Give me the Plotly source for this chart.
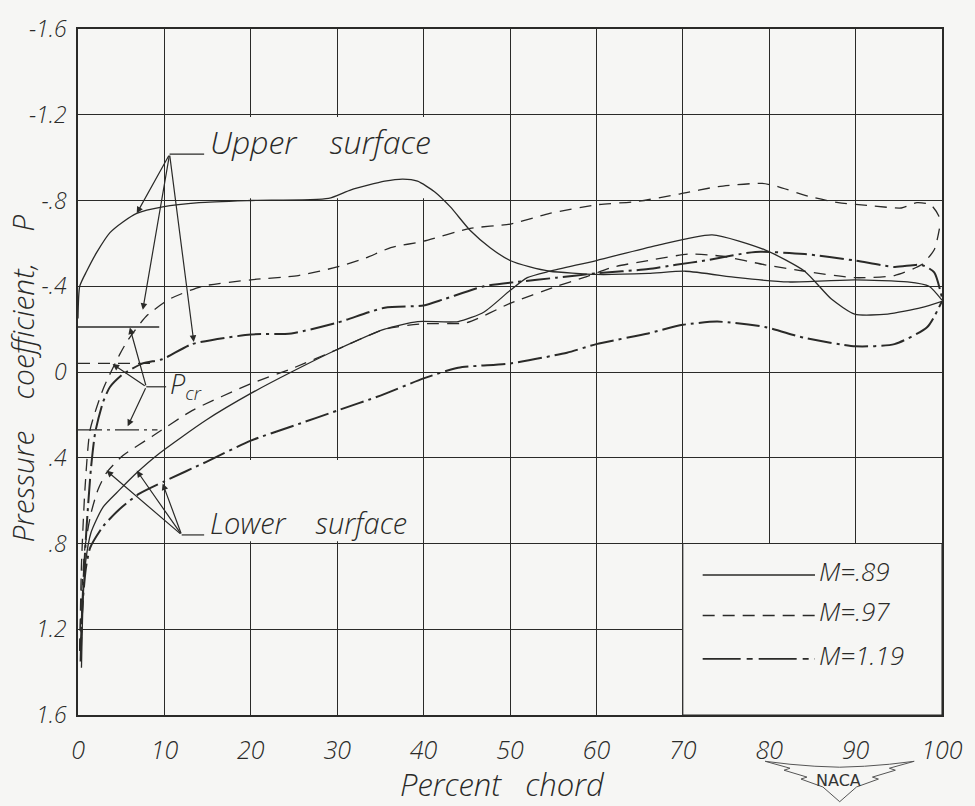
import plotly.graph_objects as go

# ---- chord stations (percent chord) and pressure coefficients ----
m89_upper_x = [0, 0.2, 1.0, 2.2, 3.7, 5.2, 6.8, 9.8, 14, 20, 29, 31.6, 35.5, 37.6,
               39.3, 41.3, 43.1, 45.4, 47.7, 50, 52.3, 54.6, 60, 66, 70.3, 76.4,
               82.2, 89.9, 96, 98.5, 100]
m89_upper_p = [-0.25, -0.40, -0.47, -0.56, -0.65, -0.70, -0.74, -0.77, -0.79, -0.80,
               -0.81, -0.85, -0.89, -0.90, -0.89, -0.84, -0.77, -0.66, -0.58, -0.52,
               -0.49, -0.47, -0.455, -0.46, -0.47, -0.44, -0.42, -0.43, -0.42, -0.40,
               -0.335]

m89_lower_x = [0.4, 0.6, 0.9, 1.5, 2.9, 4.8, 6.8, 9.4, 14.8, 20, 24.7, 30, 35.5, 39.3,
               44, 47, 50, 52, 54.6, 60, 66.9, 73.4, 79.5, 84.1, 87.2, 89.9, 93.7,
               97.6, 100]
m89_lower_p = [1.38, 1.05, 0.88, 0.75, 0.63, 0.55, 0.47, 0.38, 0.225, 0.10, 0.0,
               -0.105, -0.20, -0.235, -0.235, -0.28, -0.38, -0.44, -0.47, -0.52,
               -0.59, -0.64, -0.57, -0.47, -0.34, -0.27, -0.27, -0.30, -0.33]

m97_upper_x = [0.2, 0.4, 0.8, 1.4, 2.9, 4.8, 5.8, 7.9, 10.6, 14.4, 20, 25.5, 30, 33.2,
               36.2, 40, 45.4, 50, 54.6, 60, 64.6, 69.6, 74.1, 79.2, 81, 84.5, 88, 92,
               95.3, 97.1, 98.7, 99.6, 99.8]
m97_upper_p = [1.30, 0.90, 0.55, 0.27, 0.08, -0.08, -0.15, -0.26, -0.34, -0.40, -0.43,
               -0.45, -0.49, -0.53, -0.58, -0.61, -0.67, -0.69, -0.74, -0.78, -0.795,
               -0.83, -0.865, -0.88, -0.865, -0.82, -0.79, -0.775, -0.765, -0.79,
               -0.78, -0.73, -0.69]

m97_lower_x = [0.2, 0.4, 0.8, 1.5, 2.3, 3.3, 5.2, 8.6, 13.2, 20, 25, 30, 35.5, 40, 45,
               50, 55.4, 58.5, 62, 66, 70.7, 74.6, 79.5, 84.1, 89.9, 94.5, 97.6, 99.1,
               99.8]
m97_lower_p = [1.30, 1.05, 0.82, 0.66, 0.55, 0.47, 0.39, 0.30, 0.18, 0.055, -0.02,
               -0.105, -0.20, -0.225, -0.23, -0.32, -0.40, -0.44, -0.49, -0.52, -0.55,
               -0.54, -0.50, -0.47, -0.44, -0.45, -0.50, -0.57, -0.69]

m119_upper_x = [0.3, 0.6, 1.0, 1.5, 2.0, 2.9, 3.7, 5.2, 7.5, 9.8, 13.2, 20, 24.7, 30,
                35.5, 40, 42.4, 47, 50.8, 55.4, 60, 66, 69.2, 72.6, 78.4, 84.1, 89.9,
                94.5, 97.6, 99.1, 100]
m119_upper_p = [1.30, 1.00, 0.72, 0.45, 0.28, 0.14, 0.07, 0.01, -0.04, -0.06, -0.13,
                -0.175, -0.18, -0.23, -0.30, -0.31, -0.34, -0.40, -0.42, -0.44, -0.46,
                -0.48, -0.50, -0.52, -0.56, -0.55, -0.52, -0.49, -0.50, -0.465, -0.345]

m119_lower_x = [0.3, 0.5, 0.9, 1.4, 2.9, 4.8, 7, 10, 14.8, 20, 25, 30, 35, 40, 44, 50,
                56.6, 60, 66, 70, 74, 79.5, 84, 90, 94.5, 98.3, 100]
m119_lower_p = [1.35, 1.10, 0.92, 0.82, 0.72, 0.64, 0.57, 0.51, 0.42, 0.32, 0.25, 0.18,
                0.11, 0.03, -0.02, -0.04, -0.09, -0.13, -0.18, -0.22, -0.235, -0.21,
                -0.16, -0.12, -0.13, -0.21, -0.33]

# critical pressure coefficient for each Mach number
mach_labels = ["M=.89", "M=.97", "M=1.19"]
p_critical = [-0.21, -0.04, 0.27]

# axis ticks
x_ticks = [0, 10, 20, 30, 40, 50, 60, 70, 80, 90, 100]
x_ticktext = ["0", "10", "20", "30", "40", "50", "60", "70", "80", "90", "100"]
y_ticks = [-1.6, -1.2, -0.8, -0.4, 0, 0.4, 0.8, 1.2, 1.6]
y_ticktext = ["-1.6", "-1.2", "-.8", "-.4", "0", ".4", ".8", "1.2", "1.6"]

INK = "#2a2a28"
PAPER = "#f6f6f4"
FONT = "Open Sans"
dash_styles = ["solid", "12px,8px", "24px,5px,3px,5px"]
widths = [1.3, 1.3, 2.0]

series = [
    (m89_upper_x, m89_upper_p, m89_lower_x, m89_lower_p),
    (m97_upper_x, m97_upper_p, m97_lower_x, m97_lower_p),
    (m119_upper_x, m119_upper_p, m119_lower_x, m119_lower_p),
]

fig = go.Figure()
for i, (ux, up, lx, lp) in enumerate(series):
    for xs, ps in ((ux, up), (lx, lp)):
        fig.add_trace(go.Scatter(
            x=xs, y=ps, mode="lines",
            line=dict(color=INK, width=widths[i], dash=dash_styles[i],
                      shape="spline", smoothing=0.6),
            showlegend=False, hoverinfo="skip"))

# short critical-pressure marks near the leading edge
pcr_ends = [9.4, 8.8, 9.2]
for i, pcr in enumerate(p_critical):
    fig.add_trace(go.Scatter(
        x=[0, pcr_ends[i]], y=[pcr, pcr], mode="lines",
        line=dict(color=INK, width=1.3, dash=dash_styles[i]),
        showlegend=False, hoverinfo="skip"))

shapes = []
# clear panels behind the callout text and the key
for x0, x1, y0, y1 in ((12, 48, -1.19, -0.81), (12, 38, 0.41, 0.79)):
    shapes.append(dict(type="rect", xref="x", yref="y", x0=x0, x1=x1, y0=y0, y1=y1,
                       fillcolor=PAPER, line=dict(width=0), layer="between"))
shapes.append(dict(type="rect", xref="x", yref="y", x0=70, x1=100, y0=0.8, y1=1.6,
                   fillcolor=PAPER, line=dict(color=INK, width=1.1), layer="between"))

# leader lines for the callouts
for x0, x1, y in ((10.6, 14.6, -1.016), (12.0, 14.6, 0.76), (7.9, 10.2, 0.069)):
    shapes.append(dict(type="line", xref="x", yref="y", x0=x0, x1=x1, y0=y, y1=y,
                       line=dict(color=INK, width=1.2)))

# key samples
key_y = [0.947, 1.136, 1.338]
key_dash = ["solid", "12px,8px", "38px,6px,6px,6px"]
for i, lab in enumerate(mach_labels):
    shapes.append(dict(type="line", xref="x", yref="y", x0=72.3, x1=85.3,
                       y0=key_y[i], y1=key_y[i],
                       line=dict(color=INK, width=1.6, dash=key_dash[i])))

# NACA wing emblem below the axis (outline built from one wing, mirrored)
def px_to_paper(px, py):
    return (px - 78) / 870.0, (715 - py) / 696.0

CX = 845
half_top = [(CX, 768), (820, 767), (795, 765), (770, 762)]
half_bottom = [(770, 762), (795, 769), (789, 771), (812, 778), (806, 780),
               (828, 788), (CX, 803)]
right_top = [(2 * CX - a, b) for a, b in half_top]          # centre -> right tip
right_bottom = [(2 * CX - a, b) for a, b in half_bottom]    # right tip -> centre bottom
left_bottom = half_bottom[::-1]                              # centre bottom -> left tip
left_top = half_top[::-1]                                    # left tip -> centre
outline = right_top + right_bottom[1:] + left_bottom[1:] + left_top[1:]
pts = [px_to_paper(a, b) for a, b in outline]
path = "M " + " L ".join(f"{a:.4f},{b:.4f}" for a, b in pts) + " Z"
shapes.append(dict(type="path", xref="paper", yref="paper", path=path,
                   line=dict(color="#555", width=1), fillcolor="rgba(0,0,0,0)"))

ann = []
arrow_common = dict(showarrow=True, arrowhead=2, arrowsize=1.1, arrowwidth=1.2,
                    arrowcolor=INK, axref="x", ayref="y", xref="x", yref="y",
                    text="", standoff=0)
# "Upper surface" arrows
for tx, ty in ((6.8, -0.74), (7.5, -0.29), (13.4, -0.14)):
    ann.append(dict(x=tx, y=ty, ax=10.6, ay=-1.016, **arrow_common))
# "Lower surface" arrows
for tx, ty in ((3.3, 0.46), (6.8, 0.46), (9.8, 0.52)):
    ann.append(dict(x=tx, y=ty, ax=12.0, ay=0.76, **arrow_common))
# P_cr arrows
for tx, ty in ((6.0, -0.207), (4.0, -0.037), (5.75, 0.253)):
    ann.append(dict(x=tx, y=ty, ax=7.9, ay=0.069, **arrow_common))

text_font = dict(family=FONT, color=INK, style="italic", weight=300)
ann.append(dict(x=15.1, y=-1.075, xref="x", yref="y", text="Upper    surface",
                showarrow=False, xanchor="left", yanchor="middle",
                font=dict(size=32, **text_font)))
ann.append(dict(x=15.1, y=0.70, xref="x", yref="y", text="Lower    surface",
                showarrow=False, xanchor="left", yanchor="middle",
                font=dict(size=29, **text_font)))
ann.append(dict(x=10.4, y=0.065, xref="x", yref="y", text="P<sub>cr</sub>",
                showarrow=False, xanchor="left", yanchor="middle",
                font=dict(size=27, **text_font)))
for i, lab in enumerate(mach_labels):
    ann.append(dict(x=85.5, y=key_y[i] - 0.02, xref="x", yref="y", text=lab,
                    showarrow=False, xanchor="left", yanchor="middle",
                    font=dict(size=26, **text_font)))
# axis titles
ann.append(dict(x=0.491, y=-0.100, xref="paper", yref="paper",
                text="Percent   chord",
                showarrow=False, xanchor="center", yanchor="middle",
                font=dict(size=31, **text_font)))
ann.append(dict(x=-0.064, y=0.49, xref="paper", yref="paper",
                text="Pressure    coefficient,    P", textangle=-90,
                showarrow=False, xanchor="center", yanchor="middle",
                font=dict(size=30, **text_font)))
nx, ny = px_to_paper(844, 781)
ann.append(dict(x=nx, y=ny, xref="paper", yref="paper", text="NACA",
                showarrow=False, xanchor="center", yanchor="middle",
                font=dict(size=16, family="DejaVu Sans", color="#333")))

axis_common = dict(showgrid=True, gridcolor=INK, gridwidth=1.1, showline=True,
                   linecolor=INK, linewidth=1.5, mirror=True, zeroline=False,
                   ticks="")

fig.update_layout(
    width=975, height=806,
    margin=dict(l=78, r=27, t=19, b=91),
    paper_bgcolor=PAPER, plot_bgcolor=PAPER,
    showlegend=False,
    shapes=shapes, annotations=ann,
    xaxis=dict(range=[0, 100], tickvals=x_ticks, ticktext=x_ticktext,
               ticklabelstandoff=12, tickfont=dict(size=25, **text_font),
               **axis_common),
    yaxis=dict(range=[1.6, -1.6], tickvals=y_ticks, ticktext=y_ticktext,
               ticklabelstandoff=5, tickfont=dict(size=23, **text_font),
               **axis_common),
)

fig.write_html("out.html")
